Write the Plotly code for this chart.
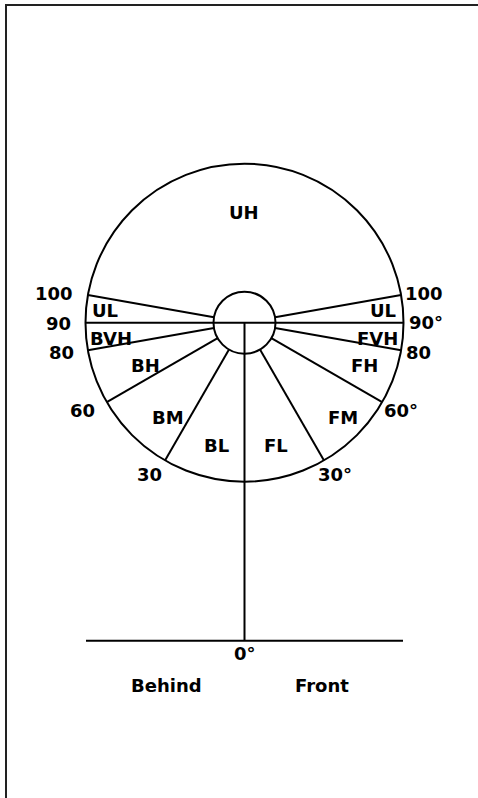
import numpy as np
import plotly.graph_objects as go

# ---- data ----
boundary_angles = [30, 60, 80, 100]          # degrees from straight down, both sides
sector_names_left = ["UL", "BVH", "BH", "BM", "BL"]
sector_names_right = ["UL", "FVH", "FH", "FM", "FL"]
top_sector = "UH"
angle_labels_left = ["100", "90", "80", "60", "30"]
angle_labels_right = ["100", "90°", "80", "60°", "30°"]
ground_label = "0°"
side_labels = ["Behind", "Front"]

# ---- geometry (pixel-like data units) ----
W, H = 478, 798
cx, cy = 244.5, 322.7
R_big, R_small = 159, 31
ground_y = 640.7
ground_x = (86, 403)

# label placement (data coords)
sector_left_xy = [(105, 310), (111, 338), (145, 365), (168, 417), (216, 445)]
sector_right_xy = [(383, 310), (377, 338), (364, 365), (343, 417), (276, 445)]
top_xy = (244, 212)
angle_left_xy = [(54, 293), (58, 323), (61, 352), (82, 410), (149, 474)]
angle_right_xy = [(424, 293), (426, 322), (418, 352), (401, 410), (335, 474)]
ground_label_xy = (244.5, 653)
side_xy = [(166, 685), (322, 685)]

FONT = dict(family="DejaVu Sans", size=18, color="#000")
LINE = dict(color="#000", width=2)

fig = go.Figure()

# radial lines
for a in boundary_angles:
    t = np.radians(a)
    for s in (-1, 1):
        xs = [cx + s * R_small * np.sin(t), cx + s * R_big * np.sin(t)]
        ys = [cy + R_small * np.cos(t), cy + R_big * np.cos(t)]
        fig.add_trace(go.Scatter(x=xs, y=ys, mode="lines", line=LINE,
                                 hoverinfo="skip", showlegend=False))

# horizontal diameter (90°)
fig.add_trace(go.Scatter(x=[cx - R_big, cx + R_big], y=[cy, cy], mode="lines",
                         line=LINE, hoverinfo="skip", showlegend=False))
# vertical line down to ground (0°)
fig.add_trace(go.Scatter(x=[cx, cx], y=[cy, ground_y], mode="lines",
                         line=LINE, hoverinfo="skip", showlegend=False))
# ground line
fig.add_trace(go.Scatter(x=list(ground_x), y=[ground_y, ground_y], mode="lines",
                         line=LINE, hoverinfo="skip", showlegend=False))

shapes = [
    dict(type="circle", xref="x", yref="y", x0=cx - R_big, x1=cx + R_big,
         y0=cy - R_big, y1=cy + R_big, line=LINE),
    dict(type="circle", xref="x", yref="y", x0=cx - R_small, x1=cx + R_small,
         y0=cy - R_small, y1=cy + R_small, line=LINE, fillcolor="rgba(0,0,0,0)"),
    dict(type="rect", xref="x", yref="y", x0=6, x1=W + 20, y0=5, y1=H + 20,
         line=dict(color="#222", width=2)),
]

annotations = []
def add_text(txt, xy):
    annotations.append(dict(x=xy[0], y=xy[1], xref="x", yref="y", text="<b>%s</b>" % txt,
                            showarrow=False, xanchor="center", yanchor="middle", font=FONT))

add_text(top_sector, top_xy)
for n, xy in zip(sector_names_left, sector_left_xy):
    add_text(n, xy)
for n, xy in zip(sector_names_right, sector_right_xy):
    add_text(n, xy)
for n, xy in zip(angle_labels_left, angle_left_xy):
    add_text(n, xy)
for n, xy in zip(angle_labels_right, angle_right_xy):
    add_text(n, xy)
add_text(ground_label, ground_label_xy)
for n, xy in zip(side_labels, side_xy):
    add_text(n, xy)

fig.update_layout(
    width=W, height=H, margin=dict(l=0, r=0, t=0, b=0),
    paper_bgcolor="white", plot_bgcolor="white",
    xaxis=dict(range=[0, W], visible=False, fixedrange=True),
    yaxis=dict(range=[H, 0], visible=False, fixedrange=True),
    shapes=shapes, annotations=annotations, showlegend=False,
)

fig.write_html("out.html",
               post_script="document.body.style.margin='0';document.body.style.overflow='hidden';",
               config={"displayModeBar": False})
